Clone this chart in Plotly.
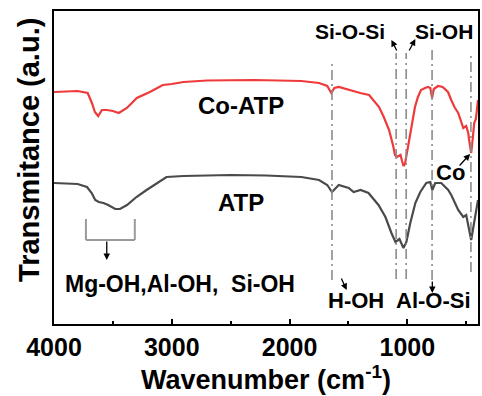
import plotly.graph_objects as go

# ---- data (wavenumber in cm-1, transmittance in arbitrary units) ----
co_atp_wn = [4000, 3800, 3714, 3678, 3653, 3625, 3593, 3551, 3500, 3450, 3381, 3297, 3186, 3076,
             3000, 2900, 2700, 2500, 2300, 2100, 1900, 1750, 1680, 1645, 1620, 1582, 1500, 1400,
             1325, 1240, 1200, 1155, 1120, 1105, 1090, 1075, 1058, 1045, 1033, 1020, 1010, 995,
             977, 955, 935, 910, 884, 850, 825, 805, 790, 775, 740, 700, 670, 655, 627, 600, 568,
             545, 525, 500, 483, 470, 458, 445, 432, 418, 400]
co_atp_t = [232, 233, 231, 221, 212, 208, 214, 214, 213, 211, 216, 226, 232, 239,
            240, 242, 243.5, 244, 244, 243.5, 243, 241, 238, 231, 236, 237, 234, 231,
            229, 217, 207, 194, 178, 169, 167, 168, 169, 163, 158, 160, 167, 178,
            191, 205, 217, 227, 234, 236, 237, 236, 226, 235, 238, 237, 234, 232, 224, 217, 211,
            203, 196, 198, 191, 180, 171, 185, 201, 205, 224]

atp_wn = [4000, 3800, 3720, 3680, 3650, 3620, 3580, 3540, 3480, 3440, 3380, 3300, 3214, 3100,
          3045, 2900, 2700, 2500, 2200, 1900, 1750, 1680, 1640, 1582, 1498, 1456, 1397, 1330,
          1245, 1186, 1135, 1101, 1067, 1033, 1008, 975, 932, 890, 839, 805, 788, 763, 712,
          653, 627, 568, 525, 500, 458, 424, 400]
atp_t = [141, 140, 137, 131, 124, 122, 121, 119, 115, 115, 119, 127, 134, 143,
         147, 148, 148.5, 149, 148.5, 147, 144, 139, 132, 139, 136, 132, 134, 131,
         119, 107, 91, 82, 85, 76, 82, 101, 121, 132, 141, 142, 134, 141, 141,
         134, 129, 114, 107, 109, 84, 107, 124]

# marker lines (wavenumber, top, bottom)
mark_wn = [1640, 1095, 1010, 790, 460]
mark_top = [264, 271, 271, 276, 269]
mark_bot = [44, 45, 45, 44, 52]

x_ticks = [4000, 3000, 2000, 1000]

FONT = "Liberation Sans, Arial, sans-serif"

fig = go.Figure()
fig.add_trace(go.Scatter(x=co_atp_wn, y=co_atp_t, mode="lines",
                         line=dict(color="#ee3a3a", width=2.2), name="Co-ATP"))
fig.add_trace(go.Scatter(x=atp_wn, y=atp_t, mode="lines",
                         line=dict(color="#4a4a4a", width=2.2), name="ATP"))

for w, t, b in zip(mark_wn, mark_top, mark_bot):
    fig.add_shape(type="line", x0=w, x1=w, y0=b, y1=t, xref="x", yref="y",
                  line=dict(color="#8c8c8c", width=1.6, dash="10px,4px,2px,4px"))

# bracket for OH region
br = dict(color="#9a9a9a", width=2)
fig.add_shape(type="line", x0=3729, x1=3314, y0=84, y1=84, line=br)
fig.add_shape(type="line", x0=3729, x1=3729, y0=84, y1=105, line=br)
fig.add_shape(type="line", x0=3314, x1=3314, y0=84, y1=105, line=br)

def label(x, y, text, size=22):
    fig.add_annotation(x=x, y=y, text=text, showarrow=False, xref="x", yref="y",
                       xanchor="center", yanchor="middle",
                       font=dict(family=FONT, size=size, color="black", weight="bold"))

def arrow(x_tail, y_tail, x_head, y_head):
    fig.add_annotation(x=x_head, y=y_head, ax=x_tail, ay=y_tail, xref="x", yref="y",
                       axref="x", ayref="y", text="", showarrow=True, arrowhead=2,
                       arrowsize=1, arrowwidth=1.3, arrowcolor="black")

label(2415, 219, "Co-ATP", 24)
label(2411, 122, "ATP", 24)
label(1485, 293, "Si-O-Si", 21)
label(686, 293, "Si-OH", 21)
label(636, 152, "Co", 22)
label(1439, 24, "H-OH", 22)
label(779, 24, "Al-O-Si", 22)
label(2931, 40, "Mg-OH,Al-OH,&nbsp;&nbsp;Si-OH", 23)

arrow(1084, 272, 1135, 284)
arrow(991, 272, 932, 285)
arrow(568, 157, 467, 170)
arrow(1566, 47, 1515, 34)
arrow(788, 44, 788, 31)
arrow(3552, 84, 3552, 64)

fig.add_annotation(x=-0.059, y=0.556, xref="paper", yref="paper", text="Transmitance (a.u.)",
                   textangle=-90, showarrow=False, xanchor="center", yanchor="middle",
                   font=dict(family=FONT, size=29, color="black", weight="bold"))

fig.update_layout(
    width=482, height=396, margin=dict(l=54, r=2, t=11, b=72),
    plot_bgcolor="white", paper_bgcolor="white", showlegend=False,
    xaxis=dict(range=[4000, 400], tickvals=x_ticks, ticks="inside", ticklen=5, tickwidth=1.5,
               tickcolor="black", showline=True, linewidth=2, linecolor="black", mirror=True,
               showgrid=False, zeroline=False,
               minor=dict(dtick=500, tick0=0, ticks="inside", ticklen=3, tickcolor="black"),
               tickfont=dict(family=FONT, size=25, color="black", weight="bold"),
               title=dict(text="Wavenumber (cm<sup>-1</sup>)", standoff=0,
                          font=dict(family=FONT, size=27, color="black", weight="bold"))),
    yaxis=dict(range=[0, 313], showticklabels=False, ticks="", showline=True, linewidth=2,
               linecolor="black", mirror=True, showgrid=False, zeroline=False),
)

fig.write_html("out.html")
